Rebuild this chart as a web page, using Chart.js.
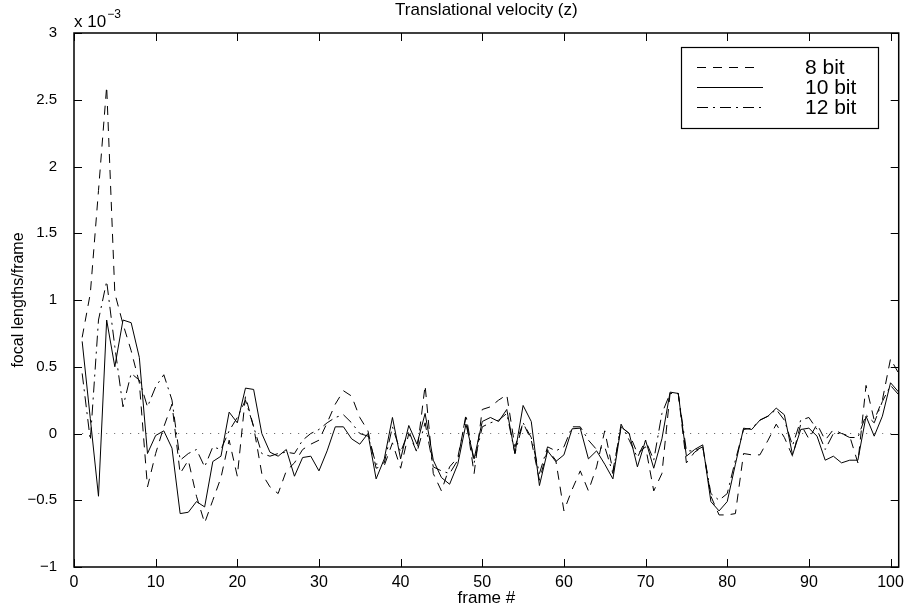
<!DOCTYPE html>
<html>
<head>
<meta charset="utf-8">
<script src="https://cdn.jsdelivr.net/npm/chart.js@4.4.1/dist/chart.umd.min.js"></script>
<style>
    html, body { margin: 0; padding: 0; background: #fff; }
    #wrap { width: 910px; height: 612px; }
</style>
</head>
<body>
<div id="wrap"><canvas id="chart" width="910" height="612"></canvas></div>
<script>
// values in units of 1e-3 focal lengths/frame
var frames = [1, 2, 3, 4, 5, 6, 7, 8, 9, 10, 11, 12, 13, 14, 15, 16, 17, 18, 19, 20,
    21, 22, 23, 24, 25, 26, 27, 28, 29, 30, 31, 32, 33, 34, 35, 36, 37, 38, 39, 40,
    41, 42, 43, 44, 45, 46, 47, 48, 49, 50, 51, 52, 53, 54, 55, 56, 57, 58, 59, 60,
    61, 62, 63, 64, 65, 66, 67, 68, 69, 70, 71, 72, 73, 74, 75, 76, 77, 78, 79, 80,
    81, 82, 83, 84, 85, 86, 87, 88, 89, 90, 91, 92, 93, 94, 95, 96, 97, 98, 99, 100, 101];

var bit8 = [0.72, 1.05, 1.82, 2.60, 1.05, 0.82, 0.62, 0.38, -0.40, -0.15,
    0.05, 0.22, -0.30, -0.20, -0.47, -0.67, -0.50, -0.33, -0.05, -0.32,
    0.28, 0.05, -0.30, -0.40, -0.45, -0.28, -0.22, -0.12, -0.08, -0.05,
    0.08, 0.22, 0.32, 0.28, 0.12, 0.02, -0.26, -0.24, -0.07, -0.26,
    0.00, -0.14, 0.36, -0.30, -0.43, -0.25, -0.18, 0.12, -0.30, 0.18,
    0.20, 0.25, 0.29, -0.10, 0.08, -0.05, -0.35, -0.12, -0.20, -0.58,
    -0.42, -0.28, -0.43, -0.25, 0.02, -0.28, 0.05, 0.00, -0.15, -0.10,
    -0.43, -0.30, 0.30, 0.30, -0.22, -0.14, -0.10, -0.47, -0.61, -0.61,
    -0.60, -0.15, -0.16, -0.16, -0.05, 0.07, -0.03, -0.17, 0.07, -0.04,
    0.07, -0.05, 0.03, 0.00, -0.02, -0.22, 0.36, 0.10, 0.25, 0.56, 0.45];

var bit10 = [0.69, 0.11, -0.47, 0.85, 0.50, 0.85, 0.83, 0.57, -0.15, -0.015,
    0.02, -0.11, -0.60, -0.59, -0.51, -0.55, -0.21, -0.17, 0.16, 0.08,
    0.34, 0.33, 0.00, -0.14, -0.17, -0.12, -0.32, -0.18, -0.17, -0.28,
    -0.13, 0.05, 0.05, -0.04, -0.08, 0.00, -0.34, -0.19, 0.12, -0.19,
    0.06, -0.08, 0.15, -0.20, -0.33, -0.38, -0.23, 0.07, -0.19, 0.09,
    0.12, 0.09, 0.18, -0.15, 0.21, 0.09, -0.39, -0.13, -0.21, -0.16,
    0.035, 0.04, -0.19, -0.13, -0.23, -0.34, 0.05, 0.00, -0.25, -0.05,
    -0.26, -0.04, 0.31, 0.30, -0.17, -0.12, -0.085, -0.51, -0.58, -0.51,
    -0.23, 0.04, 0.03, 0.10, 0.13, 0.19, 0.14, -0.16, 0.03, 0.04,
    -0.02, -0.20, -0.17, -0.22, -0.20, -0.20, 0.13, -0.02, 0.13, 0.38, 0.31];

var bit12 = [0.45, -0.05, 0.85, 1.14, 0.65, 0.20, 0.45, 0.40, 0.20, 0.35,
    0.44, 0.25, -0.20, -0.15, -0.12, -0.25, -0.10, -0.12, 0.02, 0.12,
    0.25, 0.05, -0.15, -0.17, -0.15, -0.14, -0.15, -0.05, 0.00, 0.03,
    0.08, 0.12, 0.14, 0.08, 0.00, -0.02, -0.23, -0.22, 0.05, -0.14,
    0.02, -0.14, 0.08, -0.25, -0.28, -0.30, -0.20, 0.14, -0.22, 0.05,
    0.08, 0.10, 0.15, -0.15, 0.08, -0.03, -0.30, -0.10, -0.13, -0.10,
    0.05, 0.05, -0.05, -0.12, -0.10, -0.30, 0.07, -0.05, -0.18, -0.05,
    -0.20, 0.15, 0.30, 0.30, -0.13, -0.13, -0.10, -0.45, -0.50, -0.45,
    -0.20, 0.03, 0.04, 0.10, 0.13, 0.18, 0.10, -0.09, 0.10, 0.12,
    0.03, -0.12, 0.00, 0.00, -0.03, -0.03, 0.14, 0.08, 0.24, 0.36, 0.29];

var seriesNames = ['8 bit', '10 bit', '12 bit'];

var xTicks = [0, 10, 20, 30, 40, 50, 60, 70, 80, 90, 100];
var xTickLabels = ['0', '10', '20', '30', '40', '50', '60', '70', '80', '90', '100'];
var yTicks = [-1, -0.5, 0, 0.5, 1, 1.5, 2, 2.5, 3];
var yTickLabels = ['\u22121', '\u22120.5', '0', '0.5', '1', '1.5', '2', '2.5', '3'];

var FONT = "'Liberation Sans', Arial, Helvetica, sans-serif";
var DASH = [9, 7];
var DASHDOT = [11, 5, 2, 5];

function points(ys) {
    return frames.map(function(f, i) { return { x: f, y: ys[i] }; });
}

// MATLAB style box, inward ticks, exponent and legend
var matlabBox = {
    id: 'matlabBox',
    afterDraw: function(chart) {
        var ctx = chart.ctx;
        var a = chart.chartArea;
        var xs = chart.scales.x, ys = chart.scales.y;
        var tl = 8;
        ctx.save();
        ctx.strokeStyle = '#000';
        ctx.lineWidth = 1;
        ctx.beginPath();
        xs.ticks.forEach(function(t) {
            var px = Math.round(xs.getPixelForValue(t.value)) + 0.5;
            ctx.moveTo(px, a.bottom); ctx.lineTo(px, a.bottom - tl);
            ctx.moveTo(px, a.top); ctx.lineTo(px, a.top + tl);
        });
        ys.ticks.forEach(function(t) {
            var py = Math.round(ys.getPixelForValue(t.value)) + 0.5;
            ctx.moveTo(a.left, py); ctx.lineTo(a.left + tl, py);
            ctx.moveTo(a.right, py); ctx.lineTo(a.right - tl, py);
        });
        ctx.stroke();
        ctx.lineWidth = 1.5;
        ctx.strokeRect(a.left, a.top, a.right - a.left, a.bottom - a.top);

        // exponent label
        ctx.fillStyle = '#000';
        ctx.textBaseline = 'alphabetic';
        ctx.textAlign = 'left';
        ctx.font = '17px ' + FONT;
        ctx.fillText('x 10', a.left, a.top - 6);
        var w = ctx.measureText('x 10').width;
        ctx.font = '12px ' + FONT;
        ctx.fillText('\u22123', a.left + w + 1, a.top - 15);

        // legend
        var lx = 681, ly = 47, lw = 197, lh = 81;
        ctx.fillStyle = '#fff';
        ctx.fillRect(lx, ly, lw, lh);
        ctx.lineWidth = 1.2;
        ctx.strokeStyle = '#000';
        ctx.strokeRect(lx + 0.5, ly + 0.5, lw, lh);
        var rows = [
            { y: 67.5, dash: DASH, x2: 756 },
            { y: 87.5, dash: [], x2: 763 },
            { y: 107.5, dash: DASHDOT, x2: 763 }
        ];
        ctx.lineWidth = 1;
        ctx.font = '21px ' + FONT;
        ctx.textBaseline = 'middle';
        ctx.fillStyle = '#000';
        rows.forEach(function(r, i) {
            ctx.setLineDash(r.dash);
            ctx.beginPath();
            ctx.moveTo(697, r.y);
            ctx.lineTo(r.x2, r.y);
            ctx.stroke();
            ctx.setLineDash([]);
            ctx.fillText(seriesNames[i], 805, r.y + 1);
        });
        ctx.restore();
    }
};

var lineStyle = { borderColor: '#000', borderWidth: 1, pointRadius: 0, tension: 0, fill: false };

new Chart(document.getElementById('chart'), {
    type: 'line',
    data: {
        datasets: [
            Object.assign({ label: seriesNames[0], data: points(bit8), borderDash: DASH }, lineStyle),
            Object.assign({ label: seriesNames[1], data: points(bit10) }, lineStyle),
            Object.assign({ label: seriesNames[2], data: points(bit12), borderDash: DASHDOT }, lineStyle),
            Object.assign({ label: 'zero', data: frames.map(function(f) { return { x: f, y: 0 }; }),
                borderDash: [1, 7] }, lineStyle, { borderColor: '#555' })
        ]
    },
    options: {
        responsive: false,
        animation: false,
        devicePixelRatio: 1,
        layout: { padding: { left: 0, right: 11, top: 0, bottom: 0 }, autoPadding: false },
        plugins: {
            legend: { display: false },
            tooltip: { enabled: false },
            title: {
                display: true,
                fullSize: false,
                text: 'Translational velocity (z)',
                color: '#000',
                font: { family: FONT, size: 17, weight: 'normal' },
                padding: { top: 0, bottom: 12.6 }
            }
        },
        scales: {
            x: {
                type: 'linear',
                min: 0,
                max: 101,
                afterBuildTicks: function(s) { s.ticks = xTicks.map(function(v) { return { value: v }; }); },
                afterFit: function(s) { s.height = 45; },
                grid: { display: false, drawTicks: false },
                border: { display: false },
                ticks: {
                    color: '#000',
                    font: { family: FONT, size: 16 },
                    padding: 6,
                    maxRotation: 0,
                    autoSkip: false,
                    callback: function(v, i) { return xTickLabels[i]; }
                },
                title: {
                    display: true,
                    text: 'frame #',
                    color: '#000',
                    font: { family: FONT, size: 17 },
                    padding: { top: 0, bottom: 3 }
                }
            },
            y: {
                min: -1,
                max: 3,
                afterBuildTicks: function(s) { s.ticks = yTicks.map(function(v) { return { value: v }; }); },
                afterFit: function(s) { s.width = 74; },
                grid: { display: false, drawTicks: false },
                border: { display: false },
                ticks: {
                    color: '#000',
                    font: { family: FONT, size: 15 },
                    padding: 17,
                    autoSkip: false,
                    callback: function(v, i) { return yTickLabels[i]; }
                },
                title: {
                    display: true,
                    text: 'focal lengths/frame',
                    color: '#000',
                    font: { family: FONT, size: 16 },
                    padding: { top: 9, bottom: 0 }
                }
            }
        }
    },
    plugins: [matlabBox]
});
</script>
</body>
</html>
